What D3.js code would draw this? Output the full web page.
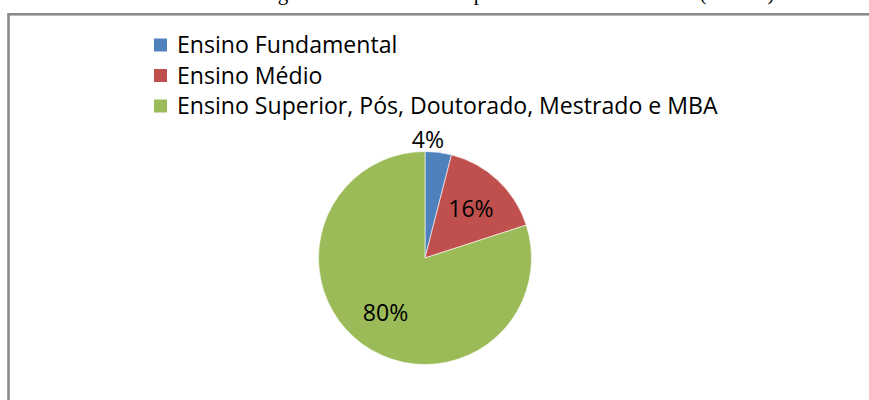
<!DOCTYPE html>
<html>
<head>
<meta charset="utf-8">
<script src="https://cdn.jsdelivr.net/npm/d3@7"></script>
<style>
  html, body { margin: 0; padding: 0; background: #fff; }
  svg { display: block; }
</style>
</head>
<body>
<svg id="chart" width="869" height="400"></svg>
<script>
// ---- data ----
const categories = ["Ensino Fundamental", "Ensino Médio", "Ensino Superior, Pós, Doutorado, Mestrado e MBA"];
const values = [4, 16, 80];
const valueLabels = ["4%", "16%", "80%"];
const colors = ["#4F81BD", "#C0504D", "#9BBB59"];
// fragments of the cropped caption visible at the very top
const captionFragments = ["g", "p", "(", ")"];
const captionX = [283, 479, 703, 771];

const svg = d3.select("#chart");
const W = 869, H = 400;
const FONT = "'Open Sans', 'Noto Sans', sans-serif";

// cropped caption (only descenders visible)
svg.append("g").selectAll("text").data(captionFragments).join("text")
  .attr("x", (d, i) => captionX[i])
  .attr("y", 0)
  .attr("text-anchor", "middle")
  .attr("font-family", "'Liberation Serif', 'Times New Roman', serif")
  .attr("font-size", 21)
  .attr("fill", "#000")
  .text(d => d);

// chart area border (left and top visible)
svg.append("rect")
  .attr("x", 8.5).attr("y", 14.3)
  .attr("width", W + 20).attr("height", H + 20)
  .attr("fill", "none")
  .attr("stroke", "#8a8a8a")
  .attr("stroke-width", 2.6);

// legend
const legend = svg.append("g").attr("transform", "translate(154,0)");
const rowY = d3.scalePoint().domain(categories).range([45, 106]);
legend.selectAll("rect").data(categories).join("rect")
  .attr("x", 0)
  .attr("y", d => rowY(d) - 6.5)
  .attr("width", 13).attr("height", 13)
  .attr("fill", (d, i) => colors[i]);
const legTexts = legend.selectAll("text").data(categories).join("text")
  .attr("x", 23)
  .attr("y", d => rowY(d))
  .attr("dy", "0.36em")
  .attr("font-family", FONT)
  .attr("font-size", 22)
  .attr("fill", "#000")
  .text(d => d);
// fit the longest legend entry to the reference width (~541px)
const longest = legTexts.nodes()[2];
const fs = 22 * 541 / longest.getComputedTextLength();
legTexts.attr("font-size", fs);

// pie
const cx = 425, cy = 258, r = 106.5;
const pie = d3.pie().sort(null).value(d => d)(values);
const arc = d3.arc().innerRadius(0).outerRadius(r);
const g = svg.append("g").attr("transform", `translate(${cx},${cy})`);
g.selectAll("path").data(pie).join("path")
  .attr("d", arc)
  .attr("fill", (d, i) => colors[i])
  .attr("stroke", "#fff")
  .attr("stroke-width", 0.6);

// labels
const inArc = d3.arc().innerRadius(r * 0.63).outerRadius(r * 0.63);
const outArc = d3.arc().innerRadius(r + 13).outerRadius(r + 13);
g.selectAll("text").data(pie).join("text")
  .attr("font-family", FONT)
  .attr("font-size", fs)
  .attr("fill", "#000")
  .attr("dy", "0.36em")
  .each(function (d, i) {
    const sel = d3.select(this);
    const small = (d.endAngle - d.startAngle) < 0.3;
    if (small) {
      const p = outArc.centroid(d);
      sel.attr("x", p[0] + 4).attr("y", p[1]).attr("text-anchor", "end");
    } else {
      const p = inArc.centroid(d);
      sel.attr("x", p[0]).attr("y", p[1]).attr("text-anchor", "middle");
    }
  })
  .text((d, i) => valueLabels[i]);
</script>
</body>
</html>
